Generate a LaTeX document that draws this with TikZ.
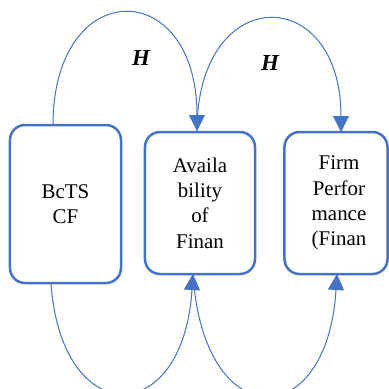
\documentclass[tikz,border=0pt]{standalone}
\usepackage{fontspec}
\setmainfont{Liberation Serif}
\usetikzlibrary{arrows.meta}
\definecolor{ablue}{HTML}{4472C4}
\begin{document}
\begin{tikzpicture}[x=1bp,y=-1bp,
  boxtext/.style={align=center,inner sep=0pt,font=\fontsize{21}{25.5}\selectfont},
  box/.style={boxtext,draw=ablue,line width=2.5bp,rounded corners=15bp},
  link/.style={draw=ablue,line width=1bp,-{Triangle[width=16bp,length=16bp]}},
  hlab/.style={font=\fontsize{23}{26}\selectfont\bfseries\itshape}]
\useasboundingbox (0,0) rectangle (389,389);
\clip (0,0) rectangle (389,389);
\node[box,minimum width=111bp,minimum height=158bp] (b1) at (65.5,204) {BcTS\\CF};
\node[box,minimum width=110bp,minimum height=142bp] (b2) at (200,203) {Availa\\bility\\of\\Finan};
\node[box,minimum width=103bp,minimum height=142bp] (b3) at (336,203) {};
\node[boxtext] (b3t) at (339,203) {Firm\\Perfor\\mance\\(Finan};
\coordinate (t1s) at (53,125);
\coordinate (t2) at (197,131);
\coordinate (t3) at (341,132);
\coordinate (u1s) at (51,283);
\coordinate (u2) at (193,274);
\coordinate (u3) at (337,274);
\draw[link] (t1s) .. controls (53,-25) and (197,-25) .. (t2);
\draw[link] (t2) .. controls (197,-18) and (341,-18) .. (t3);
\draw[link] (u1s) .. controls (61,430) and (183,430) .. (u2);
\draw[link] (u2) .. controls (203,435) and (327,435) .. (u3);
\node[hlab] (h1) at (141,57.5) {H};
\node[hlab] (h2) at (270,62.5) {H};
\end{tikzpicture}
\end{document}
